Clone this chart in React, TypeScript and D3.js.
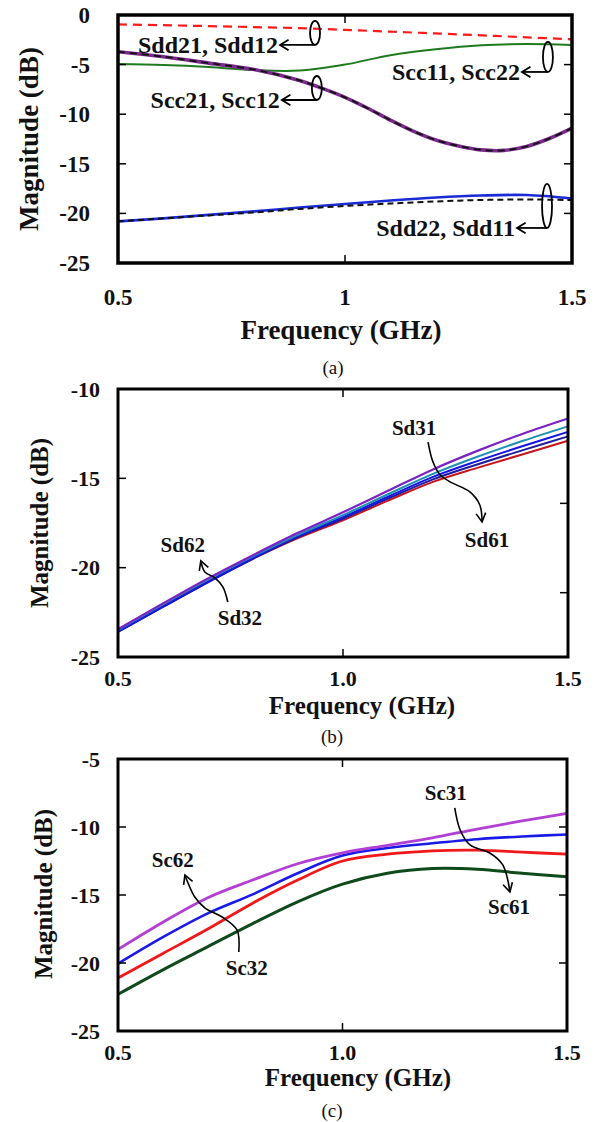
import React from 'react';
import * as d3 from 'd3';

const FONT = '"Liberation Serif","Times New Roman",Times,serif';

// ---------- shared axis values ----------
const FREQ = [0.5, 0.6, 0.7, 0.8, 0.9, 1.0, 1.1, 1.2, 1.3, 1.4, 1.5];
const X_TICKS = [0.5, 1.0, 1.5];
const X_LABELS_A = ['0.5', '1', '1.5'];
const X_LABELS_BC = ['0.5', '1.0', '1.5'];

// ---------- panel (a) ----------
const Y_TICKS_A = [0, -5, -10, -15, -20, -25];
const SDD21 = [-0.95, -1.03, -1.12, -1.22, -1.33, -1.5, -1.68, -1.86, -2.05, -2.25, -2.45];
const SCC11 = [-4.95, -5.05, -5.25, -5.55, -5.6, -5.0, -4.05, -3.45, -3.05, -2.92, -3.02];
const SCC21_F = [0.5, 0.6, 0.7, 0.8, 0.9, 0.95, 1.0, 1.05, 1.1, 1.15, 1.2, 1.25, 1.3, 1.35, 1.4, 1.45, 1.5];
const SCC21 = [-3.7, -4.2, -4.85, -5.5, -6.6, -7.4, -8.3, -9.4, -10.6, -11.7, -12.6, -13.2, -13.6, -13.65, -13.25, -12.45, -11.4];
const SDD22 = [-20.8, -20.5, -20.15, -19.8, -19.4, -19.05, -18.7, -18.4, -18.2, -18.15, -18.5];
const SDD11 = [-20.8, -20.5, -20.2, -19.9, -19.55, -19.25, -19.0, -18.8, -18.65, -18.6, -18.65];

// ---------- panel (b) ----------
const Y_TICKS_B = [-10, -15, -20, -25];
const SD_PURPLE = [-23.45, -22.0, -20.6, -19.3, -18.05, -16.9, -15.7, -14.5, -13.45, -12.5, -11.65];
const SD_TEAL = [-23.49, -22.05, -20.67, -19.37, -18.16, -17.06, -15.89, -14.75, -13.78, -12.9, -12.09];
const SD_BLUE = [-23.58, -22.18, -20.8, -19.45, -18.23, -17.17, -16.03, -14.92, -14.02, -13.19, -12.4];
const SD_NAVY = [-23.6, -22.2, -20.82, -19.5, -18.29, -17.26, -16.14, -15.06, -14.21, -13.42, -12.65];
const SD_RED = [-23.5, -22.1, -20.75, -19.5, -18.35, -17.35, -16.25, -15.2, -14.4, -13.65, -12.9];

// ---------- panel (c) ----------
const Y_TICKS_C = [-5, -10, -15, -20, -25];
const SC_PURPLE = [-19.0, -17.0, -15.2, -13.9, -12.7, -11.9, -11.35, -10.8, -10.15, -9.55, -9.0];
const SC_BLUE = [-20.05, -18.1, -16.35, -14.95, -13.4, -12.1, -11.55, -11.2, -10.9, -10.7, -10.55];
const SC_RED = [-21.1, -19.3, -17.5, -15.6, -13.9, -12.5, -12.0, -11.75, -11.7, -11.85, -12.0];
const SC_GREEN = [-22.3, -20.5, -18.8, -17.1, -15.5, -14.2, -13.4, -13.05, -13.1, -13.4, -13.65];

// ---------- annotations (data coordinates) ----------
const ANN_A = [
  { label: 'Sdd21, Sdd12', f: 0.934, v: -1.81, ry: 12, len: 35 },
  { label: 'Scc21, Scc12', f: 0.938, v: -7.36, ry: 12, len: 35 },
  { label: 'Scc11, Scc22', f: 1.447, v: -4.23, ry: 15, len: 26 },
  { label: 'Sdd22, Sdd11', f: 1.445, v: -19.25, ry: 22, len: 30 },
];
const TXT_B = [
  { label: 'Sd31', f: 1.158, v: -12.18 },
  { label: 'Sd61', f: 1.32, v: -18.45 },
  { label: 'Sd62', f: 0.644, v: -18.73 },
  { label: 'Sd32', f: 0.771, v: -22.81 },
];
const ARR_B: [number, number][][] = [
  [[1.189, -12.97], [1.2, -14.09], [1.216, -14.81], [1.238, -15.2], [1.282, -15.76], [1.304, -16.49], [1.309, -17.44]],
  [[0.744, -21.92], [0.733, -21.08], [0.716, -20.58], [0.693, -20.24], [0.684, -19.62]],
];
const TXT_C = [
  { label: 'Sc31', f: 1.23, v: -7.5 },
  { label: 'Sc61', f: 1.371, v: -15.88 },
  { label: 'Sc62', f: 0.622, v: -12.43 },
  { label: 'Sc32', f: 0.787, v: -20.37 },
];
const ARR_C: [number, number][][] = [
  [[1.25, -8.6], [1.262, -10.22], [1.284, -11.32], [1.328, -11.91], [1.357, -12.79], [1.373, -14.78]],
  [[0.769, -19.19], [0.765, -17.57], [0.732, -16.62], [0.694, -15.96], [0.671, -15.15], [0.656, -14.12], [0.649, -13.53]],
];

type Series = { f: number[]; v: number[]; color: string; w: number; dash?: string };

const PANELS = [
  {
    left: 118, right: 572, top: 15, bottom: 263, yDomain: [-25, 0], frameW: 3.5,
    yTicks: Y_TICKS_A, xLabels: X_LABELS_A,
    innerLeft: [-5, -10, -15, -20], innerRight: [-5, -10, -15, -20],
    tickFont: 23, tickGap: 28, xLabelOff: 34,
    titleFont: 27, xTitle: [341, 330], yTitle: [29, 139],
    caption: ['(a)', 333, 367],
    series: [
      { f: FREQ, v: SDD21, color: '#ff1a1a', w: 2.2, dash: '9,6' },
      { f: FREQ, v: SCC11, color: '#1f7a1f', w: 2 },
      { f: SCC21_F, v: SCC21, color: '#7a2a8c', w: 3.6 },
      { f: SCC21_F, v: SCC21, color: '#111', w: 1.8, dash: '7,5' },
      { f: FREQ, v: SDD22, color: '#1a2ad6', w: 2.6 },
      { f: FREQ, v: SDD11, color: '#111', w: 2, dash: '6,4' },
    ] as Series[],
    annFont: 24,
  },
  {
    left: 118, right: 568, top: 389, bottom: 657, yDomain: [-25, -10], frameW: 3,
    yTicks: Y_TICKS_B, xLabels: X_LABELS_BC,
    innerLeft: [-15, -20], innerRight: [-16.4, -21.4],
    tickFont: 22, tickGap: 18, xLabelOff: 21,
    titleFont: 25, xTitle: [362, 705], yTitle: [39, 523],
    caption: ['(b)', 332, 736],
    series: [
      { f: FREQ, v: SD_RED, color: '#c8141c', w: 2 },
      { f: FREQ, v: SD_NAVY, color: '#1c1c9c', w: 2 },
      { f: FREQ, v: SD_BLUE, color: '#1414e6', w: 2 },
      { f: FREQ, v: SD_TEAL, color: '#1e8fb4', w: 2 },
      { f: FREQ, v: SD_PURPLE, color: '#7a22c4', w: 2.2 },
    ] as Series[],
    annFont: 21,
  },
  {
    left: 118, right: 567, top: 759, bottom: 1031, yDomain: [-25, -5], frameW: 3,
    yTicks: Y_TICKS_C, xLabels: X_LABELS_BC,
    innerLeft: [-10, -15, -20], innerRight: [-10, -15, -20],
    tickFont: 22, tickGap: 18, xLabelOff: 21,
    titleFont: 25, xTitle: [358, 1077], yTitle: [43, 894],
    caption: ['(c)', 332, 1110],
    series: [
      { f: FREQ, v: SC_GREEN, color: '#0f4a1c', w: 3 },
      { f: FREQ, v: SC_RED, color: '#f01818', w: 2.8 },
      { f: FREQ, v: SC_BLUE, color: '#1a1ae6', w: 2.6 },
      { f: FREQ, v: SC_PURPLE, color: '#b13fd3', w: 2.8 },
    ] as Series[],
    annFont: 21,
  },
];

function chevron(tx: number, ty: number, px: number, py: number, L = 9, a = 0.5) {
  const ang = Math.atan2(ty - py, tx - px);
  const p1 = [tx - L * Math.cos(ang - a), ty - L * Math.sin(ang - a)];
  const p2 = [tx - L * Math.cos(ang + a), ty - L * Math.sin(ang + a)];
  return `M${p1[0]},${p1[1]}L${tx},${ty}L${p2[0]},${p2[1]}`;
}

function Panel({ p, idx }: { p: any; idx: number }) {
  const x = d3.scaleLinear().domain([0.5, 1.5]).range([p.left, p.right]);
  const y = d3.scaleLinear().domain(p.yDomain).range([p.bottom, p.top]);
  const line = d3
    .line<[number, number]>()
    .x((d) => x(d[0]))
    .y((d) => y(d[1]))
    .curve(d3.curveCatmullRom.alpha(0.5));
  const pxLine = d3
    .line<[number, number]>()
    .x((d) => d[0])
    .y((d) => d[1])
    .curve(d3.curveCatmullRom.alpha(0.5));
  const bold = { fontFamily: FONT, fontWeight: 700 as const, fill: '#111' };
  const tickLen = 8;

  return (
    <g>
      {/* series */}
      {p.series.map((s: Series, i: number) => (
        <path
          key={i}
          d={line(s.f.map((f, j) => [f, s.v[j]] as [number, number])) || ''}
          fill="none"
          stroke={s.color}
          strokeWidth={s.w}
          strokeDasharray={s.dash}
          strokeLinecap="butt"
        />
      ))}

      {/* frame */}
      <rect
        x={p.left}
        y={p.top}
        width={p.right - p.left}
        height={p.bottom - p.top}
        fill="none"
        stroke="#000"
        strokeWidth={p.frameW}
      />
      {/* inner ticks */}
      {p.innerLeft.map((t: number, i: number) => (
        <line key={'l' + i} x1={p.left} x2={p.left + tickLen} y1={y(t)} y2={y(t)} stroke="#000" strokeWidth={1.5} />
      ))}
      {p.innerRight.map((t: number, i: number) => (
        <line key={'r' + i} x1={p.right - tickLen} x2={p.right} y1={y(t)} y2={y(t)} stroke="#000" strokeWidth={1.5} />
      ))}
      <line x1={x(1.0)} x2={x(1.0)} y1={p.top} y2={p.top + tickLen} stroke="#000" strokeWidth={1.5} />
      <line x1={x(1.0)} x2={x(1.0)} y1={p.bottom - tickLen} y2={p.bottom} stroke="#000" strokeWidth={1.5} />

      {/* tick labels */}
      {p.yTicks.map((t: number, i: number) => (
        <text key={'yt' + i} x={p.left - p.tickGap} y={y(t)} dy="0.35em" textAnchor="end" fontSize={p.tickFont} {...bold}>
          {t}
        </text>
      ))}
      {X_TICKS.map((t, i) => (
        <text key={'xt' + i} x={x(t)} y={p.bottom + p.xLabelOff} dy="0.35em" textAnchor="middle" fontSize={p.tickFont} {...bold}>
          {p.xLabels[i]}
        </text>
      ))}

      {/* titles */}
      <text x={p.xTitle[0]} y={p.xTitle[1]} dy="0.35em" textAnchor="middle" fontSize={p.titleFont} {...bold}>
        Frequency (GHz)
      </text>
      <text
        transform={`translate(${p.yTitle[0]},${p.yTitle[1]}) rotate(-90)`}
        dy="0.35em"
        textAnchor="middle"
        fontSize={p.titleFont}
        {...bold}
      >
        Magnitude (dB)
      </text>
      <text x={p.caption[1]} y={p.caption[2]} dy="0.35em" textAnchor="middle" fontSize={19} fontFamily={FONT} fill="#111">
        {p.caption[0]}
      </text>

      {/* annotations */}
      {idx === 0 &&
        ANN_A.map((a, i) => {
          const cx = x(a.f);
          const cy = y(a.v);
          const by = cy + a.ry;
          const tip = cx - a.len;
          return (
            <g key={'a' + i}>
              <ellipse cx={cx} cy={cy} rx={5} ry={a.ry} fill="none" stroke="#000" strokeWidth={1.8} />
              <line x1={cx} x2={tip} y1={by} y2={by} stroke="#000" strokeWidth={1.8} />
              <path d={chevron(tip, by, tip + 10, by, 10, 0.55)} fill="none" stroke="#000" strokeWidth={1.8} />
              <text x={tip - 2} y={by} dy="0.35em" textAnchor="end" fontSize={p.annFont} {...bold}>
                {a.label}
              </text>
            </g>
          );
        })}
      {idx > 0 &&
        (idx === 1 ? TXT_B : TXT_C).map((t, i) => (
          <text key={'t' + i} x={x(t.f)} y={y(t.v)} dy="0.35em" textAnchor="middle" fontSize={p.annFont} {...bold}>
            {t.label}
          </text>
        ))}
      {idx > 0 &&
        (idx === 1 ? ARR_B : ARR_C).map((pts, i) => {
          const px = pts.map((d) => [x(d[0]), y(d[1])] as [number, number]);
          const n = px.length;
          return (
            <g key={'c' + i}>
              <path d={pxLine(px) || ''} fill="none" stroke="#000" strokeWidth={1.6} />
              <path
                d={chevron(px[n - 1][0], px[n - 1][1], px[n - 2][0], px[n - 2][1], 10, 0.5)}
                fill="none"
                stroke="#000"
                strokeWidth={1.6}
              />
            </g>
          );
        })}
    </g>
  );
}

export default function App() {
  return (
    <svg
      width={609}
      height={1122}
      viewBox="0 0 609 1122"
      style={{ position: 'absolute', left: 0, top: 0, background: '#fff' }}
    >
      <rect x={0} y={0} width={609} height={1122} fill="#fff" />
      {PANELS.map((p, i) => (
        <Panel key={i} p={p} idx={i} />
      ))}
    </svg>
  );
}
